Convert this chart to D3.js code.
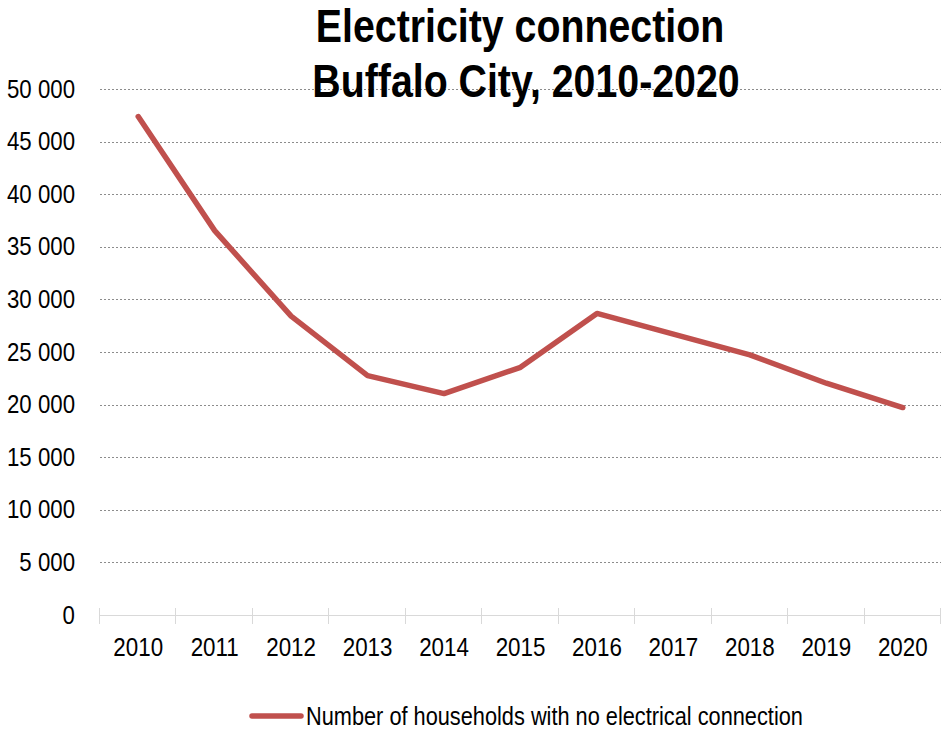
<!DOCTYPE html>
<html>
<head>
<meta charset="utf-8">
<script src="https://cdn.jsdelivr.net/npm/d3@7"></script>
<style>
  html, body { margin: 0; padding: 0; background: #fff; }
  svg { display: block; }
  text { font-family: "Liberation Sans Narrow", "Arial Narrow", "Liberation Sans", Arial, sans-serif; fill: #000; }
</style>
</head>
<body>
<svg id="chart" width="942" height="734"></svg>
<script>
// Households without an electrical connection, Buffalo City
const years = ["2010", "2011", "2012", "2013", "2014", "2015", "2016", "2017", "2018", "2019", "2020"];
const households = [47380, 36540, 28410, 22750, 21050, 23540, 28670, 26700, 24720, 22030, 19720];
const yTicks = [0, 5000, 10000, 15000, 20000, 25000, 30000, 35000, 40000, 45000, 50000];
const titleLines = ["Electricity connection", "Buffalo City, 2010-2020"];
const seriesName = "Number of households with no electrical connection";

const svg = d3.select("#chart");
const plot = { left: 100, right: 941, top: 89, bottom: 615 };

const x = d3.scaleBand().domain(years).range([plot.left, plot.right]).padding(0);
const y = d3.scaleLinear().domain([0, 50000]).range([plot.bottom, plot.top]);

const fmt = v => d3.format(",")(v).replace(/,/g, " ");

// squeeze text horizontally to a narrow face
function condense(sel, k) {
  sel.each(function () {
    const w = this.getComputedTextLength();
    d3.select(this).attr("textLength", w * k).attr("lengthAdjust", "spacingAndGlyphs");
  });
}

// horizontal dashed gridlines
svg.append("g")
  .selectAll("line")
  .data(yTicks.filter(d => d > 0))
  .join("line")
  .attr("x1", plot.left).attr("x2", plot.right)
  .attr("y1", d => Math.round(y(d)) + 0.5).attr("y2", d => Math.round(y(d)) + 0.5)
  .attr("stroke", "#8c8c8c").attr("stroke-width", 1)
  .attr("stroke-dasharray", "2,2");

// y axis labels
const yAxis = d3.axisLeft(y).tickValues(yTicks).tickFormat(fmt).tickSize(0).tickPadding(0);
const gy = svg.append("g").attr("transform", `translate(${plot.left - 25},0)`).call(yAxis);
gy.select(".domain").remove();
gy.selectAll("text").attr("font-size", 25).attr("font-family", null).call(condense, 0.89);

// category axis with boundary ticks
const gx = svg.append("g").attr("transform", `translate(0,${plot.bottom})`);
gx.append("line")
  .attr("x1", plot.left).attr("x2", plot.right)
  .attr("y1", 0.5).attr("y2", 0.5)
  .attr("stroke", "#d9d9d9").attr("stroke-width", 1);
const bounds = years.map(d => x(d)).concat([plot.right]);
gx.selectAll("line.tick")
  .data(bounds)
  .join("line")
  .attr("class", "tick")
  .attr("x1", d => Math.round(d) - 0.5).attr("x2", d => Math.round(d) - 0.5)
  .attr("y1", -7).attr("y2", 9)
  .attr("stroke", "#d9d9d9").attr("stroke-width", 1);
gx.selectAll("text")
  .data(years)
  .join("text")
  .attr("x", d => x(d) + x.bandwidth() / 2)
  .attr("y", 41)
  .attr("text-anchor", "middle")
  .attr("font-size", 26)
  .text(d => d)
  .call(condense, 0.86);

// series line
const line = d3.line()
  .x((d, i) => x(years[i]) + x.bandwidth() / 2)
  .y(d => y(d));
svg.append("path")
  .datum(households)
  .attr("d", line)
  .attr("fill", "none")
  .attr("stroke", "#c0504d")
  .attr("stroke-width", 5.5)
  .attr("stroke-linecap", "round")
  .attr("stroke-linejoin", "round");

// title, two centred lines
svg.append("g")
  .selectAll("text")
  .data(titleLines)
  .join("text")
  .attr("x", (d, i) => i === 0 ? 520 : 526)
  .attr("y", (d, i) => 42 + i * 55)
  .attr("text-anchor", "middle")
  .attr("font-size", 47)
  .attr("font-weight", "bold")
  .text(d => d)
  .call(condense, 0.836);

// legend
const lg = svg.append("g").attr("transform", "translate(250,716)");
lg.append("line")
  .attr("x1", 2).attr("x2", 51).attr("y1", 0).attr("y2", 0)
  .attr("stroke", "#c0504d").attr("stroke-width", 5.5)
  .attr("stroke-linecap", "round");
lg.append("text")
  .attr("x", 56).attr("y", 9)
  .attr("font-size", 25)
  .text(seriesName)
  .call(condense, 0.87);
</script>
</body>
</html>
